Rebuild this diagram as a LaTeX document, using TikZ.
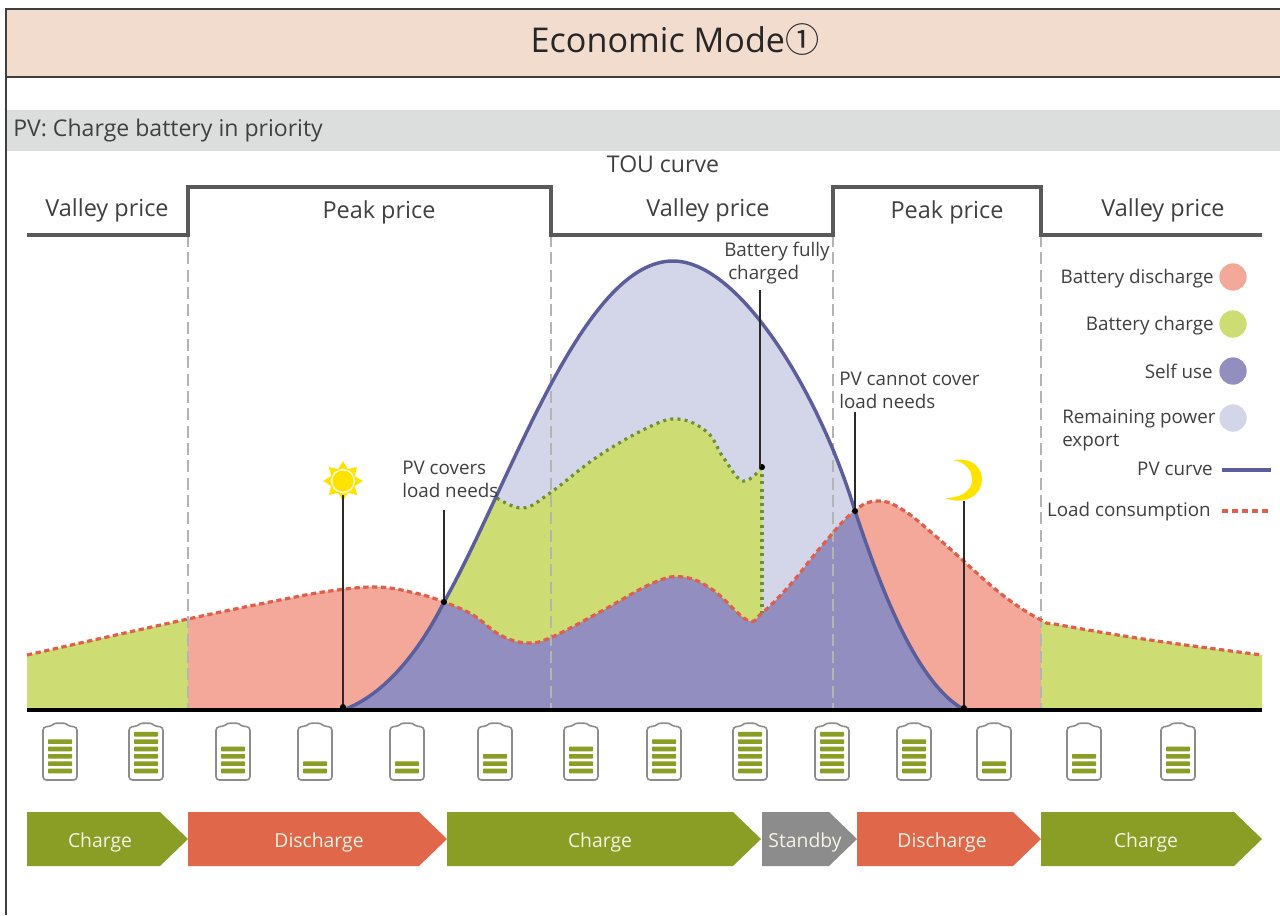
\documentclass[tikz,border=0pt]{standalone}
\usepackage{fontspec}
\setmainfont{Open Sans}
\newfontfamily\symfont{Noto Sans CJK SC}
\definecolor{banner}{HTML}{F2DCCE}
\definecolor{band}{HTML}{DCDEDD}
\definecolor{frameC}{HTML}{3F3F3F}
\definecolor{touC}{HTML}{595959}
\definecolor{txtC}{HTML}{404040}
\definecolor{dashC}{HTML}{B4B4B4}
\definecolor{pinkC}{HTML}{F3A899}
\definecolor{greenC}{HTML}{CDDD74}
\definecolor{purpleC}{HTML}{928FC0}
\definecolor{lavC}{HTML}{D3D5E9}
\definecolor{pvC}{HTML}{5C5E9C}
\definecolor{loadC}{HTML}{DD5F4C}
\definecolor{dotgC}{HTML}{6F8F35}
\definecolor{olive}{HTML}{8A9E25}
\definecolor{coral}{HTML}{E1674B}
\definecolor{greyA}{HTML}{8C8C8C}
\definecolor{sunC}{HTML}{FFE300}
\definecolor{arrowTxt}{HTML}{F4F3E4}
\definecolor{leadC}{HTML}{2A2A2A}
\tikzset{
  lbl/.style={font=\fontsize{17.6}{17.6}\selectfont,text=txtC,inner sep=0pt},
  lbl2/.style={lbl,align=left,font=\fontsize{14.1}{17.25}\selectfont},
  leg/.style={lbl,font=\fontsize{14.1}{17.25}\selectfont},
  leader/.style={leadC,line width=0.9pt},
  pinpoint/.style={circle,fill=black,minimum size=4.5pt,inner sep=0pt},
  legdot/.style={circle,minimum size=20.5pt,inner sep=0pt},
  tag/.style={font=\fontsize{14.5}{14.5}\selectfont,text=arrowTxt,inner sep=0pt},
  vdash/.style={dashC,line width=1.2pt,dash pattern=on 9pt off 4pt},
  loadline/.style={loadC,line width=2.4pt,dash pattern=on 4pt off 2.6pt},
  greenline/.style={dotgC,line width=2.4pt,dash pattern=on 2.2pt off 3.2pt},
  pvline/.style={pvC,line width=2.6pt}
}
\def\loadpts{(27,655) (188,619) (280,600) (330,591) (377,587) (415,593) (444,602) (473,615) (500,635) (527,643) (552,637) (600,612) (653,583) (683,577) (713,590) (747,620) (762,613) (790,585) (820,548) (853,512) (877,501) (903,510) (940,540) (1000,593) (1041,620) (1060,625) (1150,640) (1262,655)}
\def\pvcurve{(343,710) .. controls (385,695) and (420,650) .. (444,602) .. controls (510,485) and (582,261) .. (673,261) .. controls (740,261) and (820,395) .. (855,511) .. controls (875,570) and (912,680) .. (963,709)}
\def\upperpts{(497,498) (523,508) (550,493) (597,457) (647,428) (678,419) (707,432) (723,457) (743,481) (762,467)}
\edef\loadcurve{plot[smooth,tension=0.65] coordinates {\loadpts}}
\edef\uppercurve{plot[smooth,tension=0.65] coordinates {\upperpts}}
\edef\loadarea{(27,710) -- plot[smooth,tension=0.65] coordinates {\loadpts} -- (1262,710) -- cycle}
\edef\upperarea{(430,710) -- (430,498) -- (497,498) -- plot[smooth,tension=0.65] coordinates {\upperpts} -- (762,710) -- cycle}
\newcommand{\tagshape}[3]{% x0, x1, colour
  \fill[#3] (#1,812) -- (#2-28,812) -- (#2,839) -- (#2-28,866) -- (#1,866) -- cycle;
}
\begin{document}
\begin{tikzpicture}[x=0.75pt,y=-0.75pt]
\useasboundingbox (0,0) rectangle (1280,915);
\fill[white] (0,0) rectangle (1280,915);
% banner
\fill[banner] (6,9) rectangle (1280,77);
\draw[frameC,line width=1pt] (1280,9) -- (6,9) -- (6,915);
\draw[frameC,line width=1pt] (6,77) -- (1280,77);
\node[font=\fontsize{25.6}{26}\selectfont,text=black!85,inner sep=0pt] (title) at (675,40) {Economic Mode{\symfont ①}};
\fill[band] (7,110) rectangle (1280,151);
\node[lbl,anchor=west,font=\fontsize{17.3}{17.3}\selectfont] (pvprio) at (13,131) {PV: Charge battery in priority};
\node[lbl,font=\fontsize{17.3}{17.3}\selectfont] (tou) at (663,164) {TOU curve};
% areas
\begin{scope}
  \clip (0,0) rectangle (188,710);
  \fill[greenC] \loadarea;
\end{scope}
\begin{scope}
  \clip (188,0) rectangle (1041,710);
  \fill[pinkC] \loadarea;
\end{scope}
\begin{scope}
  \clip (1041,0) rectangle (1280,710);
  \fill[greenC] \loadarea;
\end{scope}
\fill[lavC] \pvcurve -- cycle;
\begin{scope}
  \clip \pvcurve -- cycle;
  \fill[greenC] \upperarea;
  \fill[purpleC] \loadarea;
\end{scope}
% dashed separators
\coordinate (s1) at (188,235); \coordinate (e1) at (188,710);
\coordinate (s2) at (551,235); \coordinate (e2) at (551,710);
\coordinate (s3) at (833,235); \coordinate (e3) at (833,710);
\coordinate (s4) at (1041,235); \coordinate (e4) at (1041,710);
\foreach \k in {1,2,3,4} \draw[vdash] (s\k) -- (e\k);
% curves
\draw[loadline] \loadcurve;
\draw[greenline] \uppercurve;
\coordinate (chgTop) at (762,467); \coordinate (chgBot) at (762,613);
\draw[greenline] (chgTop) -- (chgBot);
\draw[pvline] \pvcurve;
% TOU line
\draw[touC,line width=3pt,miter limit=10] (27,235) -- (188,235) -- (188,187) -- (551,187) -- (551,235) -- (833,235) -- (833,187) -- (1041,187) -- (1041,235) -- (1262,235);
% baseline
\coordinate (b0) at (27,710); \coordinate (b1) at (1262,710);
\draw[black,line width=3pt] (b0) -- (b1);
% price labels
\node[lbl] (v1) at (107,210) {Valley price};
\node[lbl] (p1) at (379,212) {Peak price};
\node[lbl] (v2) at (708,210) {Valley price};
\node[lbl] (p2) at (947,212) {Peak price};
\node[lbl] (v3) at (1163,210) {Valley price};
% annotations
\node[lbl2,anchor=north west] (full) at (724,242) {Battery fully\\\hspace*{3pt}charged};
\node[lbl2,anchor=north west] (cov) at (402,461) {PV covers\\load needs};
\node[lbl2,anchor=north west] (ncov) at (839,372) {PV cannot cover\\load needs};
% sun
\foreach \a in {0,45,...,315}
  \fill[sunC] ([shift={(\a:12.5)}]343,481) -- ([shift={(\a+28:12)}]343,481) -- ([shift={(\a:20)}]343,481) -- ([shift={(\a-28:12)}]343,481) -- cycle;
\node[circle,fill=sunC,minimum size=16pt,inner sep=0pt] (sun) at (343,481) {};
% moon
\fill[sunC] (953,460) .. controls (975,457) and (982,470) .. (982,480) .. controls (982,495) and (965,506) .. (945,498) .. controls (962,498) and (972,490) .. (972,480) .. controls (972,470) and (965,462) .. (953,460) -- cycle;
\coordinate (moon) at (964,501);
% leader pins
\node[pinpoint] (pSun) at (343,707) {};
\node[pinpoint] (pCov) at (444,602) {};
\node[pinpoint] (pFull) at (762,467) {};
\node[pinpoint] (pNcov) at (855,511) {};
\node[pinpoint] (pMoon) at (964,708) {};
\coordinate (sunB) at (343,495);
\coordinate (covT) at (444,510);
\coordinate (fullT) at (760,290);
\coordinate (fullB) at (760,467);
\coordinate (ncovT) at (855,412);
\draw[leader] (sunB) -- (pSun);
\draw[leader] (covT) -- (pCov);
\draw[leader] (fullT) -- (fullB);
\draw[leader] (ncovT) -- (pNcov);
\draw[leader] (moon) -- (pMoon);
% legend
\node[legdot,fill=pinkC] (d1) at (1233,277) {};
\node[legdot,fill=greenC] (d2) at (1233,324) {};
\node[legdot,fill=purpleC] (d3) at (1233,371) {};
\node[legdot,fill=lavC] (d4) at (1233,418) {};
\node[leg,anchor=east] (l1) at (1214,279) {Battery discharge};
\node[leg,anchor=east] (l2) at (1214,326) {Battery charge};
\node[leg,anchor=east] (l3) at (1213,371) {Self use};
\node[leg,anchor=north west,align=left] (l4) at (1062,409) {Remaining power\\export};
\node[leg,anchor=east] (l5) at (1213,469) {PV curve};
\node[leg,anchor=east] (l6) at (1211,512) {Load consumption};
\coordinate (lpA) at (1222,470); \coordinate (lpB) at (1271,470);
\draw[pvline] (lpA) -- (lpB);
\coordinate (llA) at (1222,511); \coordinate (llB) at (1272,511);
\draw[loadline,dash pattern=on 4.5pt off 3pt] (llA) -- (llB);
% batteries
\foreach \x/\n in {60/5,146/6,233/4,315/2,407/2,495/3,581/4,664/5,750/6,832/6,914/5,994/2,1084/3,1178/4}{
  \draw[greyA,line width=1.2pt,rounded corners=2.5pt] (\x-17,780) -- (\x-17,727) -- (\x-8,726) .. controls (\x-5,723) and (\x+5,723) .. (\x+8,726) -- (\x+17,727) -- (\x+17,780) -- cycle;
  \foreach \i in {1,...,\n}
    \fill[olive,rounded corners=0.5pt] (\x-12,771-7.35*\i+7.35-2.3) rectangle (\x+12,771-7.35*\i+7.35+2.3);
}
% mode arrows
\tagshape{27}{188}{olive}
\tagshape{188}{447}{coral}
\tagshape{447}{761}{olive}
\tagshape{762}{857}{greyA}
\tagshape{857}{1041}{coral}
\tagshape{1041}{1262}{olive}
\node[tag] (t1) at (100,842) {Charge};
\node[tag] (t2) at (319,842) {Discharge};
\node[tag] (t3) at (600,842) {Charge};
\node[tag] (t4) at (805,842) {Standby};
\node[tag] (t5) at (942,842) {Discharge};
\node[tag] (t6) at (1146,842) {Charge};
\end{tikzpicture}
\end{document}
